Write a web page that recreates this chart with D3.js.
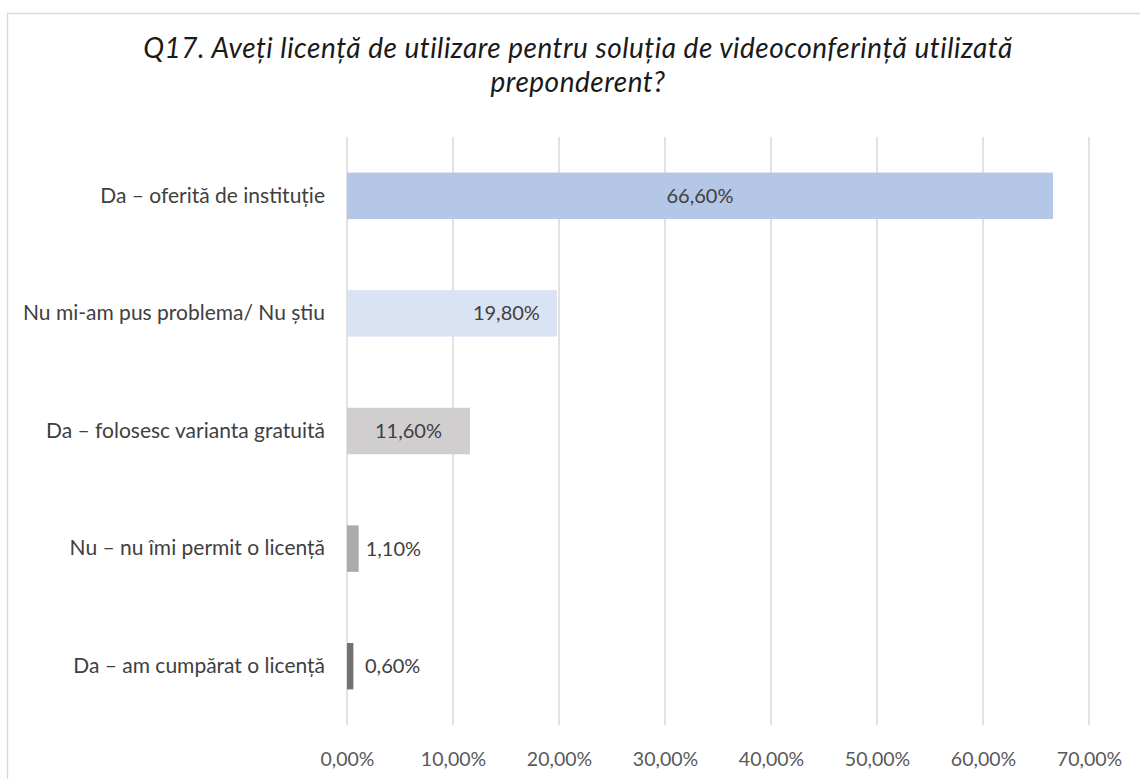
<!DOCTYPE html>
<html>
<head>
<meta charset="utf-8">
<script src="https://cdn.jsdelivr.net/npm/d3@7"></script>
<style>
  body { margin: 0; background: #fff; }
  svg { display: block; font-family: Lato, "Open Sans", sans-serif; }
</style>
</head>
<body>
<div id="chart"></div>
<script>
// chart data
const categories = [
  "Da – oferită de instituție",
  "Nu mi-am pus problema/ Nu știu",
  "Da – folosesc varianta gratuită",
  "Nu – nu îmi permit o licență",
  "Da – am cumpărat o licență"
];
const values = [66.6, 19.8, 11.6, 1.1, 0.6];
const barColors = ["#b4c7e7", "#dae3f3", "#d0cece", "#aeaaaa", "#767171"];
// where Excel put each data label
const labelPos = ["center", "insideEnd", "center", "outsideEnd", "outsideEnd"];
const ticks = [0, 10, 20, 30, 40, 50, 60, 70];
const titleLines = [
  "Q17. Aveți licență de utilizare pentru soluția de videoconferință utilizată",
  "preponderent?"
];

const W = 1140, H = 779;
const margin = {top: 137, left: 347, right: 1140 - 1089, bottom: 779 - 725};
const width = W - margin.left - margin.right,
      height = H - margin.top - margin.bottom;

const fmt = v => v.toFixed(2).replace(".", ",") + "%";

const svg = d3.select("#chart").append("svg")
    .attr("width", W)
    .attr("height", H);

// outer chart border
svg.append("rect")
    .attr("x", 7.5).attr("y", 13.5)
    .attr("width", W).attr("height", H)
    .attr("fill", "#fff")
    .attr("stroke", "#d9d9d9")
    .attr("stroke-width", 1.5);

// title (two lines)
svg.selectAll(".title")
    .data(titleLines)
    .enter().append("text")
    .attr("class", "title")
    .attr("x", 578)
    .attr("y", (d, i) => 58 + i * 34)
    .attr("text-anchor", "middle")
    .attr("font-style", "italic")
    .attr("font-size", 28)
    .attr("letter-spacing", 0.5)
    .attr("fill", "#1a1a1a")
    .text(d => d);

const g = svg.append("g")
    .attr("transform", "translate(" + margin.left + "," + margin.top + ")");

const x = d3.scaleLinear()
    .domain([0, 70])
    .range([0, width]);

const y = d3.scaleBand()
    .domain(categories)
    .range([0, height])
    .paddingInner(0.605)
    .paddingOuter(0.3025);

// gridlines
g.selectAll(".grid")
    .data(ticks)
    .enter().append("line")
    .attr("x1", d => x(d)).attr("x2", d => x(d))
    .attr("y1", 0).attr("y2", height)
    .attr("stroke", "#d9d9d9")
    .attr("stroke-width", 1.5);

// x axis labels
const xAxis = g.append("g")
    .attr("transform", "translate(0," + height + ")")
    .call(d3.axisBottom(x).tickValues(ticks).tickFormat(fmt).tickSize(0).tickPadding(27));
xAxis.select(".domain").remove();
xAxis.selectAll("text")
    .attr("font-family", "Lato, sans-serif")
    .attr("font-size", 19.5)
    .attr("fill", "#595959");

// category labels
const yAxis = g.append("g")
    .call(d3.axisLeft(y).tickSize(0).tickPadding(22));
yAxis.select(".domain").remove();
yAxis.selectAll("text")
    .attr("font-family", "Lato, sans-serif")
    .attr("font-size", 21)
    .attr("fill", "#404040");

// bars
g.selectAll(".bar")
    .data(values)
    .enter().append("rect")
    .attr("class", "bar")
    .attr("x", x(0))
    .attr("y", (d, i) => y(categories[i]))
    .attr("width", d => x(d) - x(0))
    .attr("height", y.bandwidth())
    .attr("fill", (d, i) => barColors[i]);

// data labels
g.selectAll(".lbl")
    .data(values)
    .enter().append("text")
    .attr("class", "lbl")
    .attr("x", (d, i) => {
      if (labelPos[i] === "center") return (x(0) + x(d)) / 2;
      if (labelPos[i] === "insideEnd") return x(d) - 17;
      return Math.max(x(d) + 7, x(0) + 18);
    })
    .attr("y", (d, i) => y(categories[i]) + y.bandwidth() / 2)
    .attr("dy", "0.35em")
    .attr("text-anchor", (d, i) => labelPos[i] === "center" ? "middle" : (labelPos[i] === "insideEnd" ? "end" : "start"))
    .attr("font-size", 20)
    .attr("fill", "#404040")
    .text(fmt);
</script>
</body>
</html>
